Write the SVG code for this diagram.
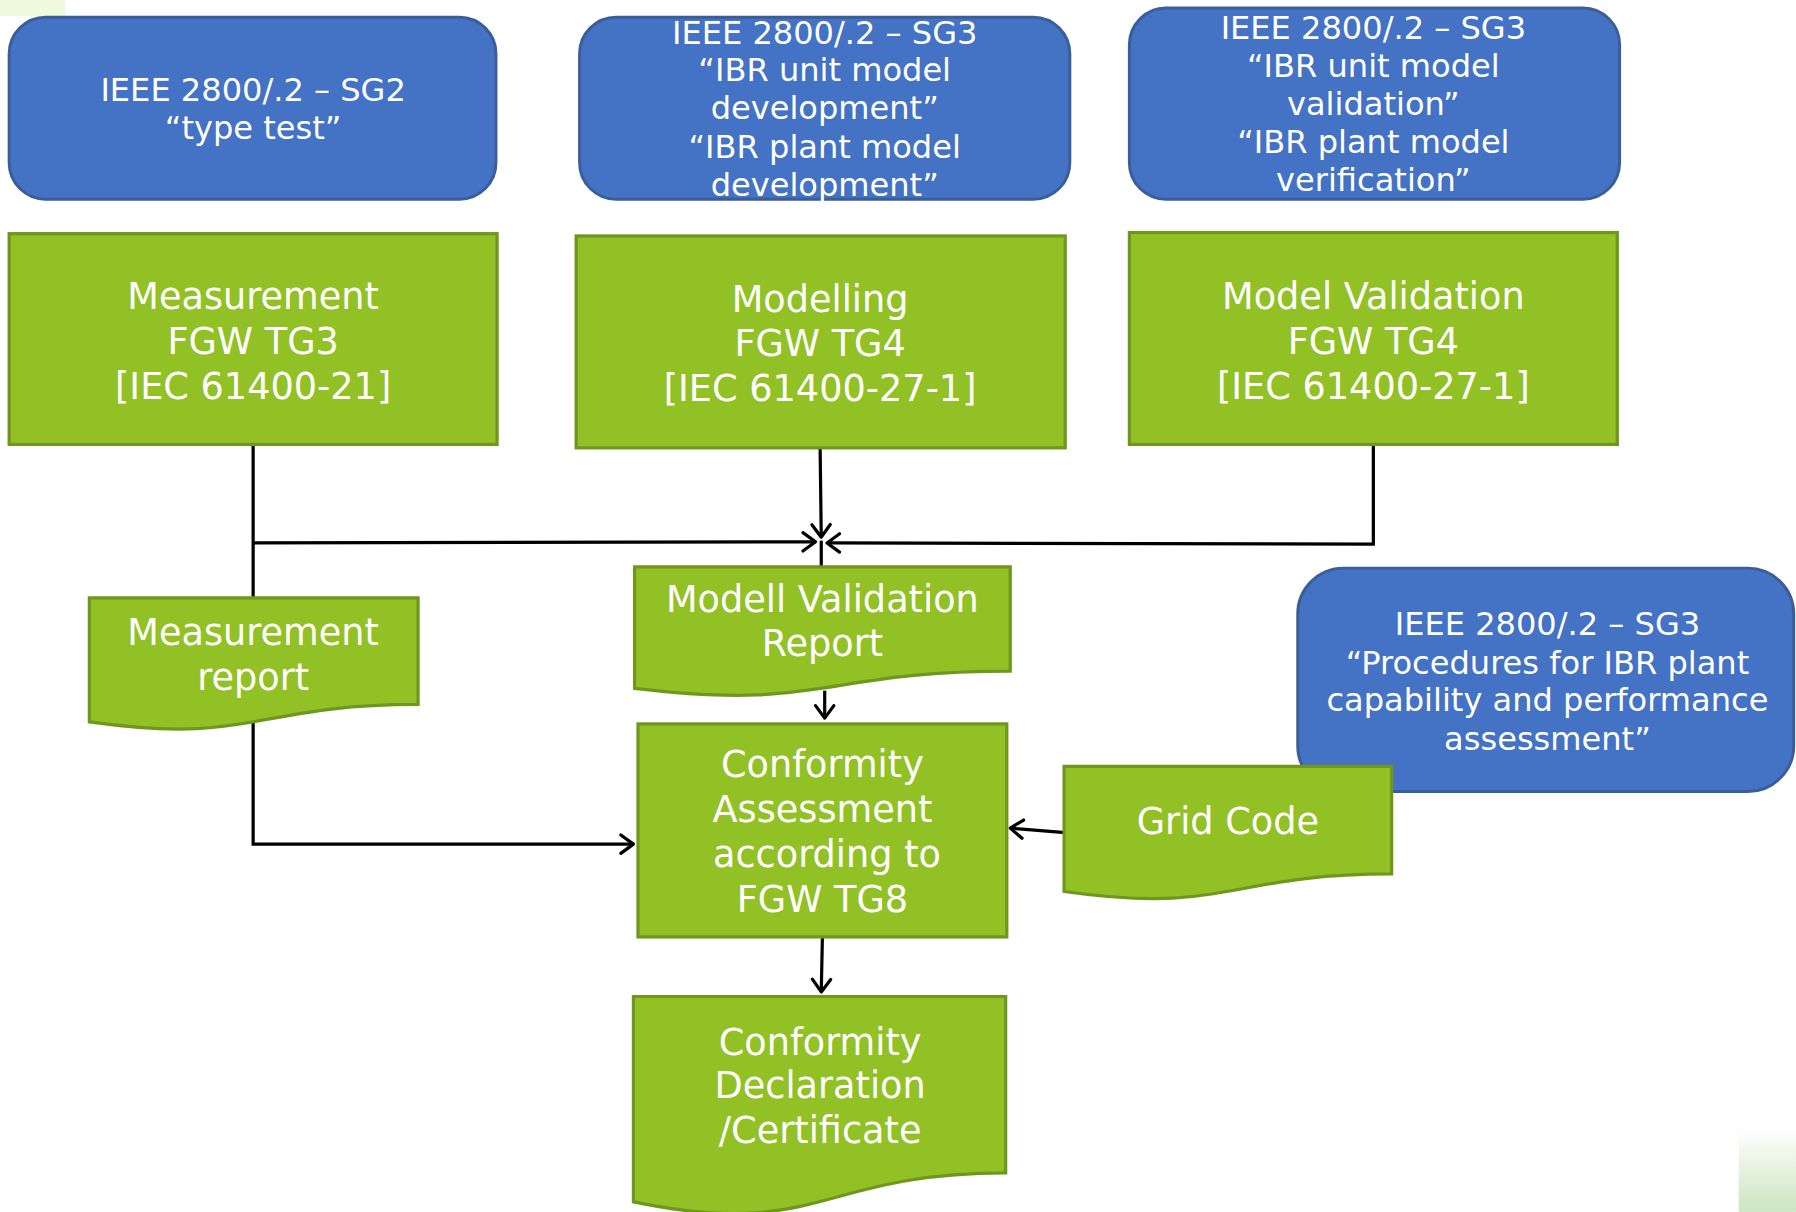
<svg xmlns="http://www.w3.org/2000/svg" width="1796" height="1212" viewBox="0 0 1796 1212">
<style>
.blue{fill:#4472c4;stroke:#3a5e99;stroke-width:2.6}
.green{fill:#92c125;stroke:#6f961d;stroke-width:2.8}
.tb{font-family:"DejaVu Sans",Verdana,sans-serif;font-size:28px;fill:#ffffff;text-anchor:middle}
.tg{font-family:"DejaVu Sans",Verdana,sans-serif;font-size:32px;fill:#ffffff;text-anchor:middle}
.con{fill:none;stroke:#000000;stroke-width:2.8}
</style>
<defs>
<marker id="arr" markerUnits="userSpaceOnUse" markerWidth="24" markerHeight="24" viewBox="-14 -12 16 24" refX="0" refY="0" orient="auto">
<path d="M-11,-8 L0,0 L-11,8" fill="none" stroke="#000000" stroke-width="2.8" stroke-linecap="round" stroke-linejoin="round"/>
</marker>
<linearGradient id="corner" x1="0" y1="0" x2="0" y2="1">
<stop offset="0" stop-color="#ffffff"/>
<stop offset="1" stop-color="#cce4c0"/>
</linearGradient>
</defs>
<rect width="1796" height="1212" fill="#ffffff"/>
<g transform="scale(1.14541)">
<rect id="deco-tl" x="0" y="0" width="57" height="14" fill="#eef9dd"/>
<rect id="deco-br" x="1518" y="985" width="50" height="73" fill="url(#corner)"/>

<g id="connectors">
<path class="con" d="M221,388 V737 H553" marker-end="url(#arr)"/>
<path class="con" d="M221,474 L712,473" marker-end="url(#arr)"/>
<path class="con" d="M716,391 L717,469" marker-end="url(#arr)"/>
<path class="con" d="M717,472 V495"/>
<path class="con" d="M1199,388 V475 L722,474" marker-end="url(#arr)"/>
<path class="con" d="M720,603 V627" marker-end="url(#arr)"/>
<path class="con" d="M930,727 L882,723" marker-end="url(#arr)"/>
<path class="con" d="M718,818 L717,866" marker-end="url(#arr)"/>
</g>

<g id="sg2-type-test">
<rect class="blue" x="8" y="15" width="425" height="159" rx="32"/>
<text class="tb" x="221" y="88">IEEE 2800/.2 – SG2</text>
<text class="tb" x="221" y="121">“type test”</text>
</g>
<g id="sg3-development">
<rect class="blue" x="506" y="15" width="428" height="159" rx="32"/>
<text class="tb" x="720" y="38">IEEE 2800/.2 – SG3</text>
<text class="tb" x="720" y="71">“IBR unit model</text>
<text class="tb" x="720" y="104">development”</text>
<text class="tb" x="720" y="138">“IBR plant model</text>
<text class="tb" x="720" y="171">development”</text>
</g>
<g id="sg3-validation">
<rect class="blue" x="986" y="7" width="428" height="167" rx="32"/>
<text class="tb" x="1199" y="34">IEEE 2800/.2 – SG3</text>
<text class="tb" x="1199" y="67">“IBR unit model</text>
<text class="tb" x="1199" y="100">validation”</text>
<text class="tb" x="1199" y="134">“IBR plant model</text>
<text class="tb" x="1199" y="167">verification”</text>
</g>

<g id="measurement">
<rect class="green" x="8" y="204" width="426" height="184"/>
<text class="tg" x="221" y="270">Measurement</text>
<text class="tg" x="221" y="309">FGW TG3</text>
<text class="tg" x="221" y="348">[IEC 61400-21]</text>
</g>
<g id="modelling">
<rect class="green" x="503" y="206" width="427" height="185"/>
<text class="tg" x="716" y="272">Modelling</text>
<text class="tg" x="716" y="311">FGW TG4</text>
<text class="tg" x="716" y="350">[IEC 61400-27-1]</text>
</g>
<g id="model-validation">
<rect class="green" x="986" y="203" width="426" height="185"/>
<text class="tg" x="1199" y="270">Model Validation</text>
<text class="tg" x="1199" y="309">FGW TG4</text>
<text class="tg" x="1199" y="348">[IEC 61400-27-1]</text>
</g>

<g id="measurement-report">
<path class="green" d="M78,522 H365 V615 C221.5,615 221.5,650.5 78,630.3 Z"/>
<text class="tg" x="221" y="563">Measurement</text>
<text class="tg" x="221" y="602">report</text>
</g>
<g id="modell-validation-report">
<path class="green" d="M554,495 H882 V586 C718,586 718,620.7 554,601 Z"/>
<text class="tg" x="718" y="534">Modell Validation</text>
<text class="tg" x="718" y="573">Report</text>
</g>

<g id="sg3-procedures">
<rect class="blue" x="1133" y="496" width="433" height="195" rx="40"/>
<text class="tb" x="1351" y="554">IEEE 2800/.2 – SG3</text>
<text class="tb" x="1351" y="588">“Procedures for IBR plant</text>
<text class="tb" x="1351" y="621">capability and performance</text>
<text class="tb" x="1351" y="655">assessment”</text>
</g>

<g id="conformity-assessment">
<rect class="green" x="557" y="632" width="322" height="186"/>
<text class="tg" x="718" y="678">Conformity</text>
<text class="tg" x="718" y="718">Assessment</text>
<text class="tg" x="722" y="757">according to</text>
<text class="tg" x="718" y="796">FGW TG8</text>
</g>
<g id="grid-code">
<path class="green" d="M929,669 H1215 V763 C1072,763 1072,798.6 929,778.3 Z"/>
<text class="tg" x="1072" y="728">Grid Code</text>
</g>
<g id="conformity-declaration">
<path class="green" d="M553,870 H878 V1024 C715.5,1024 715.5,1082.6 553,1049.3 Z"/>
<text class="tg" x="716" y="921">Conformity</text>
<text class="tg" x="716" y="959">Declaration</text>
<text class="tg" x="716" y="998">/Certificate</text>
</g>
</g>
</svg>
